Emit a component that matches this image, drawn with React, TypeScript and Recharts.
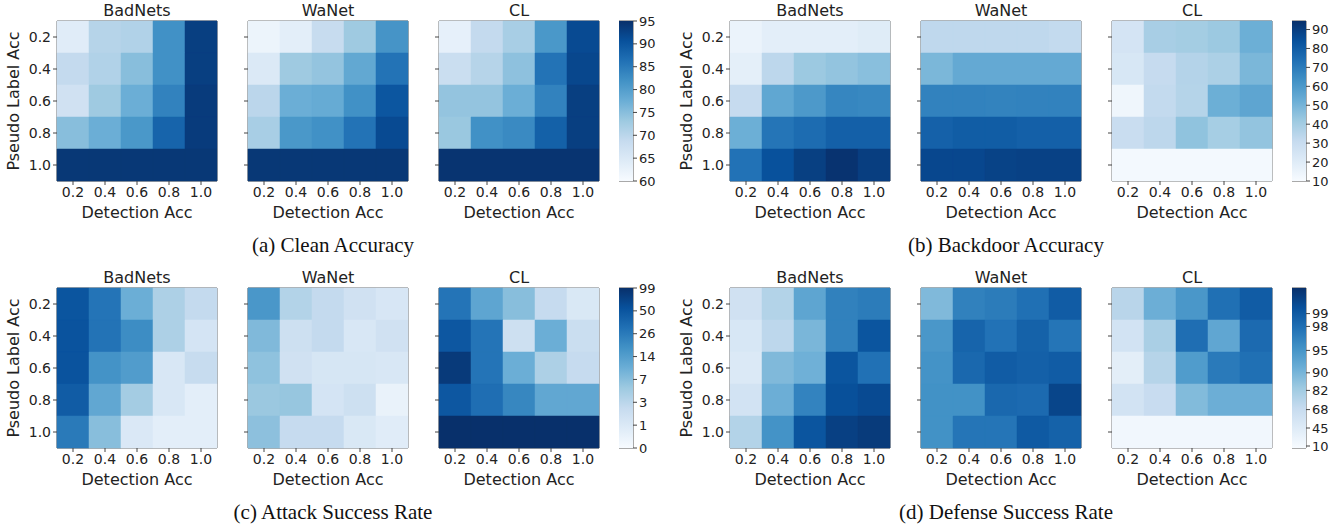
import { Bar, BarChart, Cell, ReferenceArea, XAxis, YAxis } from "recharts";

const detectionAcc = ["0.2", "0.4", "0.6", "0.8", "1.0"];
const pseudoLabelAcc = ["0.2", "0.4", "0.6", "0.8", "1.0"];
const attacks = ["BadNets", "WaNet", "CL"];

// rows: pseudo label acc 0.2 -> 1.0, cols: detection acc 0.2 -> 1.0
const cleanBadNets = [
  [64, 70.5, 71, 82, 93],
  [69, 71, 75, 82, 93],
  [67, 73, 77.5, 84, 93.5],
  [75, 77.5, 81, 88, 93.5],
  [94, 94, 94, 94, 94],
];
const cleanWaNet = [
  [62, 63.5, 68.5, 73, 81.5],
  [65, 73, 74, 78.5, 86],
  [70, 77.5, 78, 82, 90],
  [72, 81, 82, 86, 91.5],
  [94, 94, 94, 94, 94],
];
const cleanCL = [
  [63, 69, 72, 81, 91.5],
  [68, 70.5, 74.5, 86, 92],
  [74, 74, 77.5, 84, 93],
  [73.5, 82, 83, 88.5, 93],
  [94.5, 94.5, 94.5, 94.5, 94.5],
];

const backdoorBadNets = [
  [15, 18.5, 18.5, 18.5, 20],
  [18, 33.5, 42, 44, 46],
  [31, 55, 60, 66.5, 66],
  [52, 72, 75, 79, 79],
  [73, 84, 89.5, 93.5, 90],
];
const backdoorWaNet = [
  [33, 33, 33, 33, 32],
  [49, 54, 54, 54, 54],
  [68, 68, 67.5, 68, 68],
  [78.5, 80, 80, 79, 79],
  [87, 87, 88.5, 89, 89],
];
const backdoorCL = [
  [25, 39, 40, 42, 52],
  [23.5, 31, 36, 38, 49],
  [13.5, 32, 35.5, 52, 55.5],
  [30, 33.5, 44.5, 39.5, 44],
  [11.5, 11.5, 11.5, 11.5, 11.5],
];

const asrBadNets = [
  [51, 30, 10.5, 4.2, 2.6],
  [53, 31, 20, 4.2, 1.5],
  [53, 18, 14.7, 1.2, 2.4],
  [45.5, 12, 5, 1.2, 0.7],
  [26.5, 7, 1.05, 0.7, 0.7],
];
const asrWaNet = [
  [16.5, 3.7, 2.6, 1.8, 1.25],
  [8, 2, 2.6, 1.2, 1.8],
  [6.5, 1.8, 1.3, 1.3, 1.2],
  [5.7, 6, 1.5, 2, 0.5],
  [6.7, 2.5, 2.5, 1.1, 0.8],
];
const asrCL = [
  [30, 12.5, 7, 2.5, 1.1],
  [49, 30, 2, 10.5, 2.2],
  [86, 30, 10.5, 4.2, 2.5],
  [49, 34, 22, 12, 12],
  [99, 99, 99, 99, 99],
];

const dsrBadNets = [
  [60, 76, 92.5, 96.6, 97],
  [52, 72.5, 89.5, 96.6, 99.1],
  [48, 88.5, 90.7, 99.1, 97.8],
  [58, 91, 96.4, 99.2, 99.3],
  [76, 95.2, 99.1, 99.5, 99.6],
];
const dsrWaNet = [
  [88.5, 96.6, 97, 97.9, 98.9],
  [94.7, 98.5, 97.7, 98.6, 97.5],
  [95.2, 98.3, 98.9, 98.7, 98.9],
  [95.3, 95.3, 98.3, 98.2, 99.4],
  [95.3, 97.5, 97.5, 99, 98.6],
];
const dsrCL = [
  [74, 91, 94.7, 97.9, 98.9],
  [57, 79.5, 98, 92.3, 98.2],
  [38, 75, 94, 97.1, 97.9],
  [58, 68, 88, 91, 91],
  [16, 16, 16, 16, 16],
];

// colorbar ticks
const cleanTicks = [60, 65, 70, 75, 80, 85, 90, 95];
const backdoorTicks = [10, 20, 30, 40, 50, 60, 70, 80, 90];
const asrTicks = [0, 1, 3, 7, 14, 26, 50, 99];
const dsrTicks = [10, 45, 68, 82, 90, 95, 98, 99];
// where the dsr ticks sit on its (non-linear) colorbar, 0 = bottom, 1 = top
const dsrTickPos = [0.0125, 0.125, 0.24, 0.36, 0.47, 0.61, 0.76, 0.84];

const BLUES = ["#f7fbff", "#deebf7", "#c6dbef", "#9ecae1", "#6baed6", "#4292c6", "#2171b5", "#08519c", "#08306b"];

function hexToRgb(h: string) {
  const n = parseInt(h.slice(1), 16);
  return [(n >> 16) & 255, (n >> 8) & 255, n & 255];
}

function blues(t: number) {
  const c = Math.max(0, Math.min(1, t)) * (BLUES.length - 1);
  const i = Math.min(BLUES.length - 2, Math.floor(c));
  const f = c - i;
  const a = hexToRgb(BLUES[i]);
  const b = hexToRgb(BLUES[i + 1]);
  return `rgb(${a.map((v, k) => Math.round(v + (b[k] - v) * f)).join(",")})`;
}

function piecewise(xs: number[], ts: number[]) {
  return (v: number) => {
    if (v <= xs[0]) return ts[0];
    for (let i = 1; i < xs.length; i++) {
      if (v <= xs[i]) return ts[i - 1] + ((ts[i] - ts[i - 1]) * (v - xs[i - 1])) / (xs[i] - xs[i - 1]);
    }
    return ts[ts.length - 1];
  };
}

const panels = [
  {
    id: "a",
    caption: "(a) Clean Accuracy",
    maps: [cleanBadNets, cleanWaNet, cleanCL],
    ticks: cleanTicks,
    norm: piecewise([60, 95], [0, 1]),
  },
  {
    id: "b",
    caption: "(b) Backdoor Accuracy",
    maps: [backdoorBadNets, backdoorWaNet, backdoorCL],
    ticks: backdoorTicks,
    norm: piecewise([10, 94.5], [0, 1]),
  },
  {
    id: "c",
    caption: "(c) Attack Success Rate",
    maps: [asrBadNets, asrWaNet, asrCL],
    ticks: asrTicks,
    norm: piecewise(asrTicks, asrTicks.map((_, i) => i / (asrTicks.length - 1))),
  },
  {
    id: "d",
    caption: "(d) Defense Success Rate",
    maps: [dsrBadNets, dsrWaNet, dsrCL],
    ticks: dsrTicks,
    norm: piecewise([9.5, ...dsrTicks, 99.8], [0, ...dsrTickPos, 1]),
  },
];

const PLOT = 160;
const Y_AXIS_W = 57;
const X_AXIS_H = 45;
const PAD = 3;
const CB_PAD = 10;
const TEXT = "#222";
const SPINE = "#555";

function Heatmap({ values, norm, first }: { values: number[][]; norm: (v: number) => number; first: boolean }) {
  const n = pseudoLabelAcc.length;
  const data = detectionAcc.map((d) => {
    const row: Record<string, string | number> = { det: d };
    pseudoLabelAcc.forEach((_, ri) => (row["r" + ri] = 1 / n));
    return row;
  });
  const yTicks = pseudoLabelAcc.map((_, i) => (i + 0.5) / n);
  return (
    <BarChart
      width={Y_AXIS_W + PLOT + PAD}
      height={PAD + PLOT + X_AXIS_H}
      data={data}
      margin={{ top: PAD, right: PAD, bottom: 0, left: 0 }}
      barCategoryGap={0}
      barGap={0}
    >
      <XAxis
        dataKey="det"
        height={X_AXIS_H}
        tickSize={4}
        axisLine={false}
        tickLine={{ stroke: "#444" }}
        tick={{ fill: TEXT, fontSize: 14 }}
        interval={0}
        label={{ value: "Detection Acc", position: "insideBottom", offset: 8, fill: TEXT, fontSize: 16 }}
      />
      <YAxis
        type="number"
        domain={[0, 1]}
        reversed
        ticks={yTicks}
        interval={0}
        width={Y_AXIS_W}
        tickSize={4}
        axisLine={false}
        tickLine={{ stroke: "#444" }}
        tick={{ fill: TEXT, fontSize: 14 }}
        tickFormatter={(v: number) => (first ? pseudoLabelAcc[Math.round(v * n - 0.5)] : "")}
        label={
          first
            ? {
                value: "Pseudo Label Acc",
                angle: -90,
                position: "insideLeft",
                offset: 13,
                fill: TEXT,
                fontSize: 16,
                style: { textAnchor: "middle" },
              }
            : undefined
        }
      />
      {pseudoLabelAcc.map((_, ri) => (
        <Bar key={ri} dataKey={"r" + ri} stackId="s" isAnimationActive={false}>
          {detectionAcc.map((_, ci) => {
            const c = blues(norm(values[ri][ci]));
            return <Cell key={ci} fill={c} stroke={c} strokeWidth={0.5} />;
          })}
        </Bar>
      ))}
      <ReferenceArea y1={0} y2={1} fill="none" stroke={SPINE} strokeWidth={1} />
    </BarChart>
  );
}

function Colorbar({ id, ticks, norm }: { id: string; ticks: number[]; norm: (v: number) => number }) {
  const pos = ticks.map(norm);
  return (
    <BarChart
      width={14 + 40}
      height={CB_PAD + PLOT + CB_PAD}
      data={[{ k: "cb", v: 1 }]}
      margin={{ top: CB_PAD, right: 0, bottom: CB_PAD, left: 0 }}
      barCategoryGap={0}
    >
      <defs>
        <linearGradient id={"blues-" + id} x1="0" y1="1" x2="0" y2="0">
          {BLUES.map((c, i) => (
            <stop key={i} offset={i / (BLUES.length - 1)} stopColor={c} />
          ))}
        </linearGradient>
      </defs>
      <XAxis dataKey="k" hide />
      <YAxis
        orientation="right"
        type="number"
        domain={[0, 1]}
        ticks={pos}
        interval={0}
        width={40}
        tickSize={4}
        axisLine={false}
        tickLine={{ stroke: "#444" }}
        tick={{ fill: TEXT, fontSize: 13 }}
        tickFormatter={(v: number) => String(ticks[pos.indexOf(v)])}
      />
      <Bar dataKey="v" fill={`url(#blues-${id})`} isAnimationActive={false} />
      <ReferenceArea y1={0} y2={1} fill="none" stroke={SPINE} strokeWidth={1} />
    </BarChart>
  );
}

const colLefts = [57, 248, 439];
const cbLeft = 619;
const groupLefts = [0, 673, 0, 673];
const groupTops = [21, 21, 288, 288];

export default function App() {
  return (
    <div
      style={{
        position: "absolute",
        left: 0,
        top: 0,
        width: 1344,
        height: 527,
        background: "#fff",
        fontFamily: "'DejaVu Sans', sans-serif",
        overflow: "hidden",
      }}
    >
      {panels.map((p, pi) => {
        const gx = groupLefts[pi];
        const top = groupTops[pi];
        const mid = gx + (colLefts[0] + colLefts[2] + PLOT) / 2 + 5;
        return (
          <div key={p.id}>
            {attacks.map((name, ai) => (
              <div key={name}>
                <div
                  style={{
                    position: "absolute",
                    left: gx + colLefts[ai],
                    top: top - 19,
                    width: PLOT,
                    textAlign: "center",
                    fontSize: 16,
                    lineHeight: "18px",
                    color: TEXT,
                  }}
                >
                  {name}
                </div>
                <div style={{ position: "absolute", left: gx + colLefts[ai] - Y_AXIS_W, top: top - PAD }}>
                  <Heatmap values={p.maps[ai]} norm={p.norm} first={ai === 0} />
                </div>
              </div>
            ))}
            <div style={{ position: "absolute", left: gx + cbLeft, top: top - CB_PAD }}>
              <Colorbar id={p.id} ticks={p.ticks} norm={p.norm} />
            </div>
            <div
              style={{
                position: "absolute",
                left: mid - 200,
                top: top + 212,
                width: 400,
                textAlign: "center",
                fontFamily: "'Liberation Serif', serif",
                fontSize: 21,
                lineHeight: "24px",
                color: "#111",
              }}
            >
              {p.caption}
            </div>
          </div>
        );
      })}
    </div>
  );
}
